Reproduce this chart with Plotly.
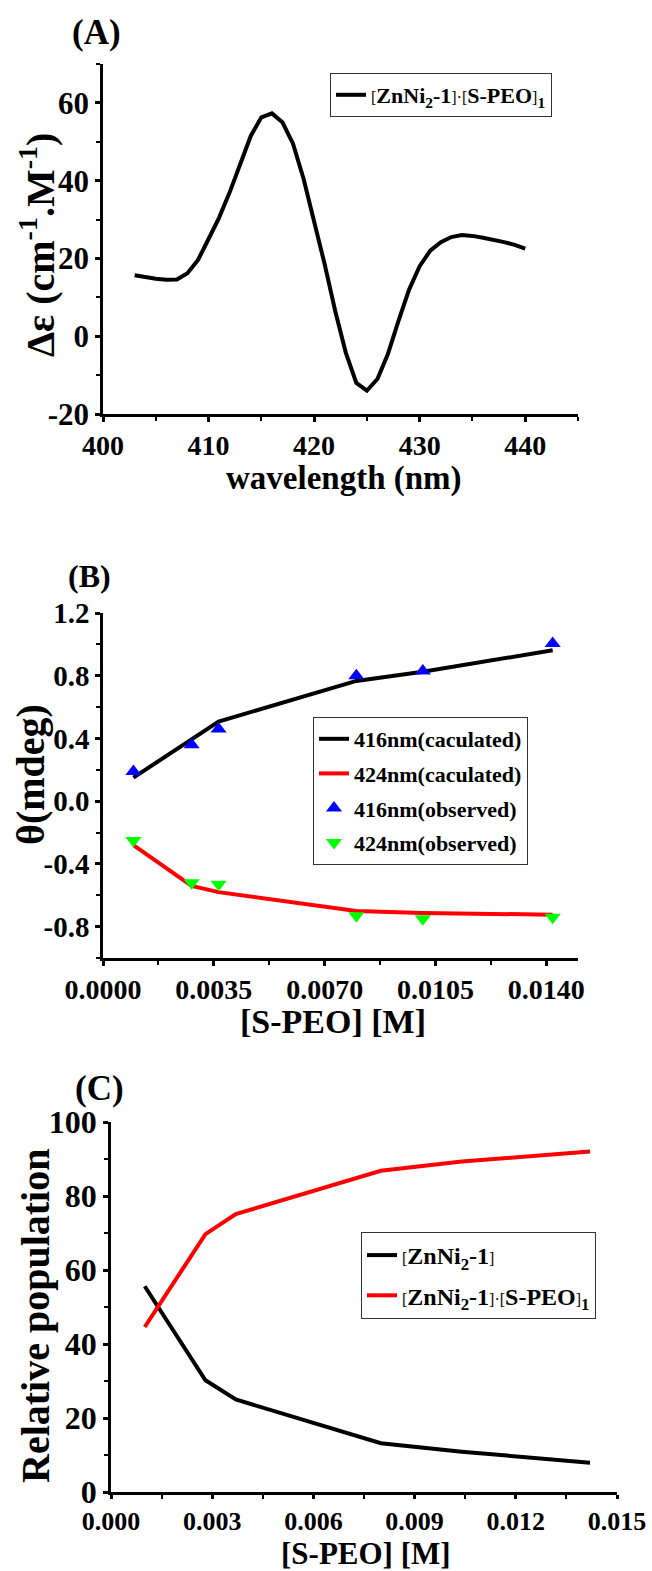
import plotly.graph_objects as go

# ---------------- data ----------------
# Panel A: CD spectrum
wavelength = [403, 404, 405, 406, 407, 408, 409, 410, 411, 412, 413, 414, 415, 416,
              417, 418, 419, 420, 421, 422, 423, 424, 425, 426, 427, 428, 429, 430,
              431, 432, 433, 434, 435, 436, 437, 438, 439, 440]
delta_eps = [15.7, 15.2, 14.8, 14.5, 14.6, 16.2, 19.6, 25.0, 30.5, 37.0, 44.0, 51.5,
             56.3, 57.3, 55.0, 49.5, 40.5, 30.0, 18.5, 6.5, -4.2, -12.0, -14.0, -11.0,
             -4.5, 4.0, 12.0, 18.0, 22.0, 24.2, 25.5, 26.0, 25.8, 25.3, 24.8, 24.2,
             23.5, 22.5]

# Panel B: theta vs [S-PEO]
conc_b = [0.00096, 0.0028, 0.00365, 0.0080, 0.0101, 0.0142]
calc_416 = [0.15, 0.40, 0.508, 0.767, 0.826, 0.962]
calc_424 = [-0.28, -0.54, -0.58, -0.70, -0.713, -0.724]
obs_416 = [0.19, 0.36, 0.46, 0.80, 0.83, 1.005]
obs_424 = [-0.25, -0.52, -0.53, -0.73, -0.75, -0.74]

# Panel C: relative population
conc_c = [0.001, 0.0028, 0.0037, 0.008, 0.0104, 0.0142]
pop_free = [55.6, 30.2, 25.0, 13.2, 10.9, 7.9]
pop_complex = [44.6, 69.7, 75.1, 86.8, 89.3, 92.0]

# tick labels
a_xticks = [400, 410, 420, 430, 440]
a_yticks = [-20, 0, 20, 40, 60]
a_yticktext = ["-20", "0", "20", "40", "60"]
b_xticks = [0.0, 0.0035, 0.007, 0.0105, 0.014]
b_xticktext = ["0.0000", "0.0035", "0.0070", "0.0105", "0.0140"]
b_yticks = [-0.8, -0.4, 0.0, 0.4, 0.8, 1.2]
b_yticktext = ["-0.8", "-0.4", "0.0", "0.4", "0.8", "1.2"]
c_xticks = [0.0, 0.003, 0.006, 0.009, 0.012, 0.015]
c_xticktext = ["0.000", "0.003", "0.006", "0.009", "0.012", "0.015"]
c_yticks = [0, 20, 40, 60, 80, 100]

# ---------------- styling ----------------
W, H = 652, 1571
FONT = "Liberation Serif"


def px_x(p):
    return p / W


def px_y(p):
    return 1 - p / H


def sm(t):
    return "<span style='font-size:16px;font-weight:normal'>" + t + "</span>"


name_complex = sm("[") + "ZnNi<sub>2</sub>-1" + sm("]·[") + "S-PEO" + sm("]") + "<sub>1</sub>"
name_free = sm("[") + "ZnNi<sub>2</sub>-1" + sm("]")

fig = go.Figure()

fig.add_trace(go.Scatter(x=wavelength, y=delta_eps, mode="lines",
                         line=dict(color="black", width=4),
                         name=name_complex, xaxis="x", yaxis="y", legend="legend"))

fig.add_trace(go.Scatter(x=conc_b, y=calc_416, mode="lines",
                         line=dict(color="black", width=4), legendgroup="b1",
                         name="416nm(caculated)", xaxis="x2", yaxis="y2", legend="legend2"))
fig.add_trace(go.Scatter(x=conc_b, y=calc_424, mode="lines",
                         line=dict(color="#ff0000", width=4), legendgroup="b2",
                         name="424nm(caculated)", xaxis="x2", yaxis="y2", legend="legend2"))
fig.add_trace(go.Scatter(x=conc_b, y=obs_416, mode="markers",
                         marker=dict(symbol="triangle-up", color="#0000ff", size=14),
                         legendgroup="b3",
                         name="416nm(observed)", xaxis="x2", yaxis="y2", legend="legend2"))
fig.add_trace(go.Scatter(x=conc_b, y=obs_424, mode="markers",
                         marker=dict(symbol="triangle-down", color="#00ff00", size=14),
                         legendgroup="b4",
                         name="424nm(observed)", xaxis="x2", yaxis="y2", legend="legend2"))

fig.add_trace(go.Scatter(x=conc_c, y=pop_free, mode="lines",
                         line=dict(color="black", width=4), legendgroup="g1",
                         name=name_free, xaxis="x3", yaxis="y3", legend="legend3"))
fig.add_trace(go.Scatter(x=conc_c, y=pop_complex, mode="lines",
                         line=dict(color="#ff0000", width=4), legendgroup="g2",
                         name=name_complex, xaxis="x3", yaxis="y3", legend="legend3"))


def tfont(size):
    return dict(family=FONT, size=size, color="black", weight="bold")


def axis(domain, rng, tickvals, ticktext, minor_dtick, minor_tick0, anchor, fsize, tlen=5):
    return dict(domain=domain, range=rng, anchor=anchor,
                tickmode="array", tickvals=tickvals, ticktext=ticktext,
                ticks="outside", ticklen=tlen, tickwidth=2.5, tickcolor="black",
                minor=dict(ticks="outside", ticklen=4, tickwidth=2, tickcolor="black",
                           tick0=minor_tick0, dtick=minor_dtick),
                showline=True, linewidth=2.5, linecolor="black", mirror=False,
                showgrid=False, zeroline=False, tickfont=tfont(fsize),
                ticklabeloverflow="allow",
                automargin=False, fixedrange=True)


ax_x = [px_x(103), px_x(578)]
cx_x = [px_x(111), px_x(617)]
a_y = [px_y(414), px_y(64)]
b_y = [px_y(958), px_y(613)]
c_y = [px_y(1492), px_y(1122)]

legend_common = dict(xanchor="left", yanchor="top", bgcolor="white",
                     bordercolor="#333", borderwidth=1)

fig.update_layout(
    width=W, height=H,
    margin=dict(l=0, r=0, t=0, b=0),
    paper_bgcolor="white", plot_bgcolor="white",
    font=dict(family=FONT, color="black", weight="bold"),
    xaxis=axis(ax_x, [400, 445], a_xticks, [str(v) for v in a_xticks], 5, 400, "y", 28),
    yaxis=axis(a_y, [-20, 70], a_yticks, a_yticktext, 10, -20, "x", 31),
    xaxis2=axis(ax_x, [0, 0.015], b_xticks, b_xticktext, 0.00175, 0, "y2", 28),
    yaxis2=axis(b_y, [-1.0, 1.2], b_yticks, b_yticktext, 0.2, -1.0, "x2", 29),
    xaxis3=axis(cx_x, [0, 0.015], c_xticks, c_xticktext, 0.0015, 0, "y3", 26, 4),
    yaxis3=axis(c_y, [0, 100], c_yticks, [str(v) for v in c_yticks], 10, 0, "x3", 32),
    legend=dict(x=px_x(330), y=px_y(73), font=tfont(22), **legend_common),
    legend2=dict(x=px_x(313), y=px_y(717), font=tfont(22), tracegroupgap=3,
                 traceorder="grouped", **legend_common),
    legend3=dict(x=px_x(361), y=px_y(1232), font=tfont(24), tracegroupgap=6,
                 traceorder="grouped", **legend_common),
    showlegend=True,
)

# panel labels
for label, xp, yp, fs in [("(A)", 70, 33, 35), ("(B)", 66, 576, 32), ("(C)", 73, 1088, 35)]:
    fig.add_annotation(text=label, x=px_x(xp), y=px_y(yp), xref="paper", yref="paper",
                       xanchor="left", yanchor="middle", showarrow=False,
                       font=tfont(fs))

# axis titles
titles = [
    ("wavelength (nm)", 344, 478, 0, 33),
    ("Δε (cm<sup>-1</sup>.M<sup>-1</sup>)", 37, 245, -90, 40),
    ("[S-PEO] [M]", 333, 1021, 0, 34),
    ("θ(mdeg)", 30, 775, -90, 40),
    ("[S-PEO] [M]", 366, 1553, 0, 31),
    ("Relative population", 35, 1316, -90, 40),
]
for text, xp, yp, ang, size in titles:
    fig.add_annotation(text=text, x=px_x(xp), y=px_y(yp), xref="paper", yref="paper",
                       xanchor="center", yanchor="middle", textangle=ang,
                       showarrow=False, font=tfont(size))

fig.write_html("out.html", post_script="document.body.style.margin='0';",
               config={"displayModeBar": False})
